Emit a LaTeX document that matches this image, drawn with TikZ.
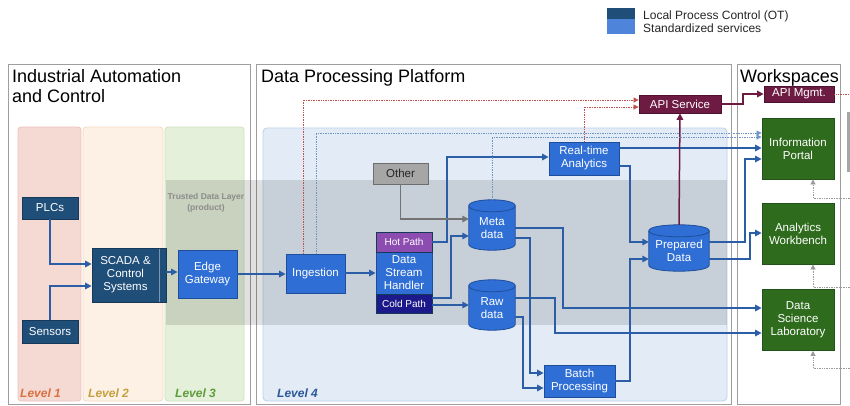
\documentclass[tikz,border=0pt]{standalone}
\usepackage{fontspec}
\setmainfont{Liberation Sans}
\usetikzlibrary{arrows.meta,calc}
\definecolor{otblue}{HTML}{1F4E79}
\definecolor{otborder}{HTML}{16395A}
\definecolor{stdblue}{HTML}{2F6FD5}
\definecolor{stdborder}{HTML}{1E4D9A}
\definecolor{wgreen}{HTML}{2E6B1D}
\definecolor{wgreenb}{HTML}{22531A}
\definecolor{maroon}{HTML}{6D1B43}
\definecolor{maroonb}{HTML}{4E1230}
\definecolor{hotc}{HTML}{8D4DB0}
\definecolor{coldc}{HTML}{1C1A8A}
\definecolor{connblue}{HTML}{2C5EA8}
\definecolor{lvaf}{HTML}{F5DAD4}\definecolor{lvab}{HTML}{ECC3BB}
\definecolor{lvbf}{HTML}{FDF0E4}\definecolor{lvbb}{HTML}{F4DCC4}
\definecolor{lvcf}{HTML}{E4F0D9}\definecolor{lvcb}{HTML}{CFE3C0}
\definecolor{lvdf}{HTML}{E3ECF6}\definecolor{lvdb}{HTML}{B9D0E8}
\definecolor{lvat}{HTML}{D9703F}
\definecolor{lvbt}{HTML}{C4A040}
\definecolor{lvct}{HTML}{5E9C3C}
\definecolor{lvdt}{HTML}{2B5797}
\definecolor{reddot}{HTML}{C0504D}
\definecolor{bluedot}{HTML}{6F95C4}
\definecolor{greydot}{HTML}{9A9A9A}
\definecolor{otherf}{HTML}{A6A6A6}
\definecolor{otherb}{HTML}{6E6E6E}
\newcommand\dbcyl[5]{%
 \node[minimum width=#4pt, minimum height=#5pt, inner sep=0pt] (#1) at (#2,#3) {};
 \filldraw[fill=stdblue, draw=stdborder, line width=0.8pt] ([yshift=-6pt]#1.north west) -- ([yshift=6pt]#1.south west)
   .. controls ([yshift=-2pt]#1.south west) and ([yshift=-2pt]#1.south east) .. ([yshift=6pt]#1.south east)
   -- ([yshift=-6pt]#1.north east)
   .. controls ([yshift=2pt]#1.north east) and ([yshift=2pt]#1.north west) .. ([yshift=-6pt]#1.north west) -- cycle;
 \draw[draw=stdborder, line width=0.8pt] ([yshift=-6pt]#1.north west) .. controls ([yshift=-14pt]#1.north west) and ([yshift=-14pt]#1.north east) .. ([yshift=-6pt]#1.north east);
}
\begin{document}
\begin{tikzpicture}[x=1pt,y=-1pt,
  box/.style={rectangle, line width=0.8pt, align=center, text=white, inner sep=1pt, font=\fontsize{11.5}{13}\selectfont},
  ot/.style={box, fill=otblue, draw=otborder},
  std/.style={box, fill=stdblue, draw=stdborder},
  grn/.style={box, fill=wgreen, draw=wgreenb, minimum width=72pt, minimum height=61pt},
  apibox/.style={box, fill=maroon, draw=maroonb},
  txt/.style={align=center, text=white, inner sep=0pt, font=\fontsize{11.5}{13}\selectfont},
  panel/.style={draw=black!38, line width=1pt},
  title/.style={anchor=base west, inner sep=0pt, font=\fontsize{18}{21}\selectfont},
  lvl/.style={anchor=base west, inner sep=0pt, font=\fontsize{12}{14}\selectfont\bfseries\itshape},
  conn/.style={draw=connblue, line width=1.5pt, -{Triangle[length=6.5pt,width=6.5pt]}},
  mconn/.style={draw=maroon, line width=1.5pt, -{Triangle[length=6.5pt,width=6.5pt]}},
  gconn/.style={draw=black!55, line width=1.5pt, -{Triangle[length=6.5pt,width=6.5pt]}},
  rdot/.style={draw=reddot, line width=0.7pt, densely dotted, -{Triangle[length=5pt,width=5pt]}},
  bdot/.style={draw=bluedot, line width=0.7pt, densely dotted, -{Triangle[length=5pt,width=5pt]}},
  gdot/.style={draw=greydot, line width=0.7pt, densely dotted, -{Triangle[length=5pt,width=5pt]}},
]
\useasboundingbox (0,0) rectangle (850,405);
\fill[white] (0,0) rectangle (850,405);
% legend
\fill[otblue] (607,8) rectangle (635,19);
\fill[stdblue!85!white] (607,19) rectangle (635,34);
\node[anchor=base west, inner sep=0pt, font=\fontsize{12}{14}\selectfont, text=black!85] (leg1) at (643,19) {Local Process Control (OT)};
\node[anchor=base west, inner sep=0pt, font=\fontsize{12}{14}\selectfont, text=black!85] (leg2) at (643,32.5) {Standardized services};
% panels
\draw[panel] (8,64) rectangle (250,404);
\draw[panel] (256,64) rectangle (731,404);
\draw[panel] (737,64) rectangle (840,404);
\node[title] (t1a) at (12,82.5) {Industrial Automation};
\node[title] (t1b) at (12,102) {and Control};
\node[title] (t2) at (261,82.5) {Data Processing Platform};
\node[title] (t3) at (740,82) {Workspaces};
% levels
\filldraw[fill=lvaf, draw=lvab, line width=0.8pt, rounded corners=3pt] (18,127) rectangle (81,401);
\filldraw[fill=lvbf, draw=lvbb, line width=0.8pt, rounded corners=3pt] (83,127) rectangle (163,401);
\filldraw[fill=lvcf, draw=lvcb, line width=0.8pt, rounded corners=3pt] (165,127) rectangle (244,401);
\filldraw[fill=lvdf, draw=lvdb, line width=0.8pt, rounded corners=4pt] (263,128) rectangle (727,401);
% trusted band
\fill[black, opacity=0.12] (166,180) rectangle (727,325);
\node[align=center, inner sep=0pt, font=\fontsize{8.5}{10.5}\selectfont\bfseries, text=black!45] (tdl) at (206,203) {Trusted Data Layer\\(product)};
\node[lvl, text=lvat] (l1) at (20,397) {Level 1};
\node[lvl, text=lvbt] (l2) at (88,397) {Level 2};
\node[lvl, text=lvct] (l3) at (175,397) {Level 3};
\node[lvl, text=lvdt] (l4) at (277,397) {Level 4};
% nodes
\node[ot, minimum width=56pt, minimum height=22pt] (plc) at (50,208) {PLCs};
\node[ot, minimum width=56pt, minimum height=23pt] (sens) at (50,331.5) {Sensors};
\node[ot, minimum width=74pt, minimum height=54pt] (scada) at (129,275) {};
\draw[draw=otblue!60!white, line width=0.8pt] (159,248.5) -- (159,301.5);
\node[txt] (scadat) at (125.5,275) {SCADA \&\\Control\\Systems};
\node[std, minimum width=59pt, minimum height=48pt] (edge) at (207.5,274) {Edge\\Gateway};
\node[std, minimum width=59pt, minimum height=39pt] (ing) at (315.5,273.5) {Ingestion};
\node[std, minimum width=56pt, minimum height=42pt] (dsh) at (404,273) {Data\\Stream\\Handler};
\node[box, fill=hotc, draw=otborder, minimum width=56pt, minimum height=20pt, font=\fontsize{10}{11}\selectfont] (hot) at (404,242) {Hot Path};
\node[box, fill=coldc, draw=otborder, minimum width=56pt, minimum height=19pt, font=\fontsize{10}{11}\selectfont] (cold) at (404,303.5) {Cold Path};
\node[box, fill=otherf, draw=otherb, text=black!85, minimum width=55pt, minimum height=21pt] (other) at (400.5,173.5) {Other};
\dbcyl{meta}{492}{225}{46}{50}
\node[txt] (metat) at ([yshift=-3pt]meta.center) {Meta\\data};
\dbcyl{raw}{492}{305}{46}{50}
\node[txt] (rawt) at ([yshift=-3pt]raw.center) {Raw\\data};
\dbcyl{prep}{679}{248}{60}{46}
\node[txt] (prept) at ([yshift=-3pt]prep.center) {Prepared\\Data};
\node[std, minimum width=70pt, minimum height=33pt] (rta) at (584,158.5) {Real-time\\Analytics};
\node[std, minimum width=71pt, minimum height=32pt] (batch) at (579.5,381) {Batch\\Processing};
\node[apibox, minimum width=82pt, minimum height=18pt] (apis) at (680,104) {API Service};
\node[apibox, minimum width=70pt, minimum height=16pt] (apim) at (799,94) {API Mgmt.};
\node[grn] (ip) at (798,148.5) {Information\\Portal};
\node[grn] (aw) at (798,233.5) {Analytics\\Workbench};
\node[grn] (dsl) at (798,320) {Data\\Science\\Laboratory};
\fill[black!35] (847,112) rectangle (850,172);
% connectors
\draw[conn] (plc.south) |- (scada.west |- 0,264);
\draw[conn] (sens.north) |- (scada.west |- 0,286);
\draw[conn] (scada.east |- 0,272) -- (edge.west |- 0,272);
\draw[conn] (edge.east |- 0,274) -- (ing.west |- 0,274);
\draw[conn] (ing.east |- 0,273) -- (dsh.west |- 0,273);
\draw[conn] (hot.east) -- (447,242) |- (rta.west |- 0,157);
\draw[conn] (cold.east |- 0,298) -- (451,298) |- (meta.west |- 0,236);
\draw[conn] (cold.east |- 0,305) -- (raw.west |- 0,305);
\draw[gconn] (other.south) |- (meta.west |- 0,219);
\draw[conn] (meta.east |- 0,228) -| (563,308) -- (dsl.west |- 0,308);
\draw[conn] (meta.east |- 0,238) -| (530,373) -- (batch.west |- 0,373);
\draw[conn] (raw.east |- 0,298) -| (555,333) -- (dsl.west |- 0,333);
\draw[conn] (raw.east |- 0,317) -| (523,388) -- (batch.west |- 0,388);
\draw[conn] (batch.east) -| (630,259) -- (prep.west |- 0,259);
\draw[conn] (rta.east |- 0,166) -| (630,242) -- (prep.west |- 0,242);
\draw[conn] (rta.east |- 0,148) -- (ip.west |- 0,148);
\draw[conn] (prep.east |- 0,242) -| (745,159) -- (ip.west |- 0,159);
\draw[conn] (prep.east |- 0,259) -| (750,233) -- (aw.west |- 0,233);
\draw[mconn] (prep.north) -- (apis.south);
\draw[mconn] (apis.east) -| (743,94) -- (apim.west);
\draw[rdot] (ing.north -| 303,0) |- (apis.west |- 0,100);
\draw[rdot] (rta.north) |- (apis.west |- 0,107);
\draw[bdot] (ing.north -| 316,0) |- (ip.west |- 0,133);
\draw[bdot] (meta.north) |- (ip.west |- 0,137);
\coordinate (rend) at (850,94);
\draw[draw=reddot, line width=0.7pt, densely dotted] (apim.east) -- (rend);
\coordinate (g1) at (850,198);
\coordinate (g2) at (850,287);
\coordinate (g3) at (850,368);
\draw[gdot] (g1) -| (ip.south -| 813,0);
\draw[gdot] (g2) -| (aw.south -| 813,0);
\draw[gdot] (g3) -| (dsl.south -| 813,0);
\end{tikzpicture}
\end{document}
